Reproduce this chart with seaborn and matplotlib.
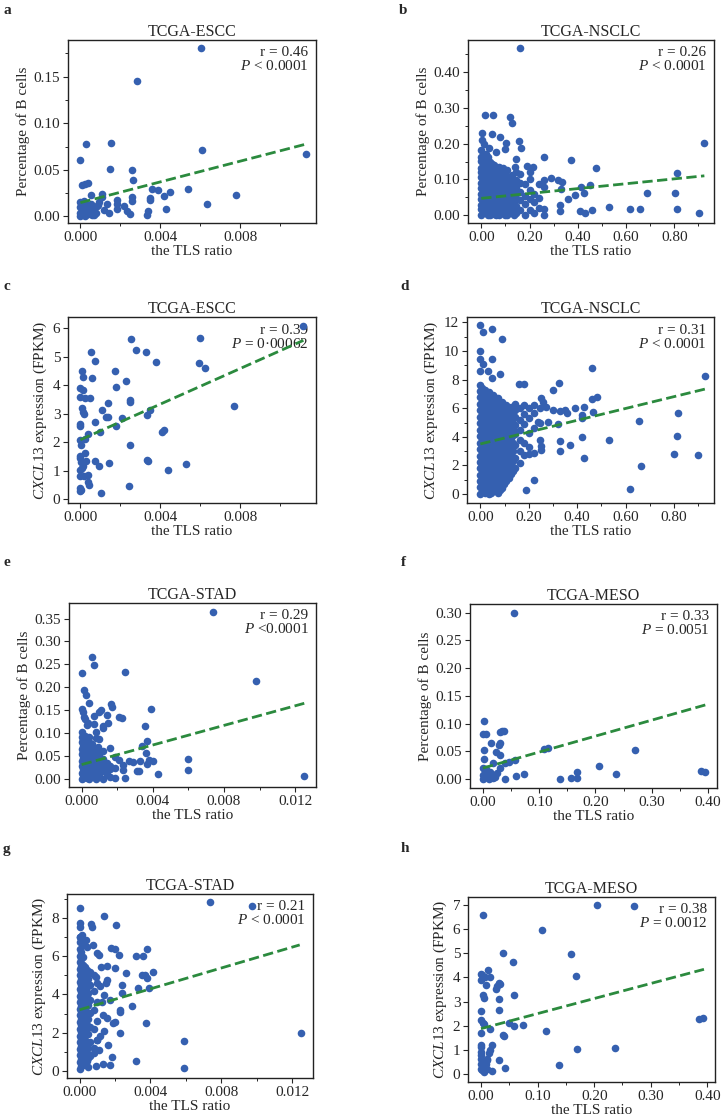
import matplotlib
matplotlib.use("Agg")
import pandas as pd
import matplotlib.pyplot as plt
import seaborn as sns
from matplotlib.ticker import FormatStrFormatter, MultipleLocator

# cores: pontos azuis, reta de regressao verde tracejada
BLUE = "#3560B0"
GREEN = "#2B8A3E"

# ---------------- dados ----------------
# a: TCGA-ESCC, percentagem de celulas B
escc_b_pts = [
    (0.00604, 0.1805), (0.00285, 0.1454), (0.0003, 0.0772), (0.00151, 0.0790), (0.00607, 0.0718),
    (0.01128, 0.0668), (0.0, 0.0600), (0.00148, 0.0513), (0.00257, 0.0503), (0.00265, 0.0388),
    (0.0001, 0.0334), (0.00025, 0.0345), (0.0004, 0.0355), (0.00054, 0.0233), (0.00109, 0.0244),
    (0.0011, 0.0208), (0.0026, 0.0208), (0.0026, 0.0161), (0.0036, 0.0294), (0.0039, 0.0287),
    (0.0042, 0.0219), (0.0045, 0.0266), (0.0054, 0.0294), (0.00347, 0.0197), (0.00347, 0.018),
    (0.00777, 0.0226), (0.00634, 0.0129), (0.00431, 0.0079), (0.0034, 0.0057), (0.00336, 0.0011),
    (0.0025, 0.0029), (0.00235, 0.0054), (0.00218, 0.0108), (0.00185, 0.0172), (0.00185, 0.0136),
    (0.00185, 0.0083), (0.00143, 0.004), (0.00134, 0.0136), (0.00117, 0.0072), (0.00092, 0.0154),
    (0.00081, 0.0108), (0.00067, 0.0011), (0.0, 0.0154), (0.0, 0.004), (0.0001, 0.008),
    (0.0002, 0.002), (0.0003, 0.006), (0.00015, 0.012), (0.0004, 0.003), (0.00035, 0.009),
    (0.0005, 0.006), (0.0, 0.0), (0.00025, 0.0005), (0.0006, 0.001), (0.0001, 0.014),
    (0.0004, 0.012), (0.0007, 0.008), (0.00055, 0.013), (0.0, 0.01), (0.0002, 0.016),
    (0.0008, 0.004), (0.0009, 0.012),
]
escc_b_fit = [(0.0, 0.0147), (0.01128, 0.0775)]

# b: TCGA-NSCLC, percentagem de celulas B
nsclc_b_pts = [
    (0.159, 0.468), (0.014, 0.279), (0.048, 0.279), (0.120, 0.274), (0.127, 0.258), (0.003, 0.231),
    (0.044, 0.227), (0.076, 0.220), (0.005, 0.210), (0.012, 0.200), (0.158, 0.208), (0.166, 0.187),
    (0.104, 0.203), (0.032, 0.187), (0.062, 0.178), (0.098, 0.184), (0.146, 0.156), (0.260, 0.164),
    (0.371, 0.153), (0.474, 0.132), (0.925, 0.203), (0.812, 0.119), (0.688, 0.061), (0.802, 0.062),
    (0.449, 0.084), (0.413, 0.080), (0.329, 0.073), (0.427, 0.062), (0.390, 0.056), (0.360, 0.046),
    (0.530, 0.023), (0.616, 0.017), (0.657, 0.017), (0.810, 0.017), (0.902, 0.007), (0.459, 0.014),
    (0.410, 0.011), (0.430, 0.005), (0.325, 0.027), (0.325, 0.011), (0.260, 0.016), (0.260, 0.000),
    (0.260, 0.098), (0.260, 0.080), (0.290, 0.105), (0.320, 0.098), (0.335, 0.094), (0.215, 0.136),
    (0.190, 0.138), (0.200, 0.122), (0.140, 0.136),
]
# nuvem densa: (x, lista de y) por coluna
nsclc_b_cloud = [
    (0.000, [0.0, 0.016, 0.029, 0.046, 0.06, 0.077, 0.089, 0.106, 0.12, 0.133, 0.151, 0.164, 0.181]),
    (0.009, [0.008, 0.023, 0.038, 0.053, 0.068, 0.083, 0.098, 0.113, 0.128, 0.143, 0.158, 0.172]),
    (0.018, [0.006, 0.02, 0.037, 0.05, 0.066, 0.079, 0.096, 0.11, 0.127, 0.139, 0.156, 0.171]),
    (0.027, [0.0, 0.013, 0.028, 0.043, 0.058, 0.073, 0.088, 0.103, 0.118, 0.133, 0.148, 0.163]),
    (0.036, [0.0, 0.014, 0.031, 0.044, 0.061, 0.074, 0.091, 0.104, 0.121, 0.136, 0.149]),
    (0.045, [0.008, 0.022, 0.037, 0.052, 0.067, 0.082, 0.097, 0.112, 0.127, 0.142]),
    (0.054, [0.004, 0.021, 0.034, 0.051, 0.064, 0.081, 0.094, 0.111, 0.124, 0.141]),
    (0.063, [0.0, 0.012, 0.027, 0.042, 0.057, 0.072, 0.087, 0.102, 0.117, 0.132]),
    (0.072, [0.0, 0.016, 0.029, 0.046, 0.059, 0.076, 0.089, 0.106, 0.119, 0.134]),
    (0.081, [0.007, 0.022, 0.037, 0.052, 0.067, 0.082, 0.097, 0.112, 0.127]),
    (0.090, [0.011, 0.024, 0.041, 0.054, 0.071, 0.084, 0.101, 0.114, 0.131]),
    (0.099, [0.0, 0.017, 0.032, 0.047, 0.062, 0.078, 0.093, 0.108]),
    (0.108, [0.0, 0.021, 0.039, 0.061, 0.074, 0.091, 0.109, 0.126]),
    (0.117, [0.008, 0.028, 0.05, 0.066, 0.083, 0.1]),
    (0.126, [0.01, 0.031, 0.049, 0.071, 0.089, 0.111]),
    (0.135, [0.0, 0.018, 0.04, 0.062, 0.088]),
    (0.144, [0.005, 0.026, 0.049, 0.076, 0.099, 0.121]),
    (0.162, [0.015, 0.041, 0.064, 0.091, 0.114]),
    (0.180, [0.0, 0.031, 0.054, 0.086]),
    (0.200, [0.015, 0.046, 0.069, 0.101]),
    (0.220, [0.005, 0.036, 0.059]),
    (0.240, [0.021, 0.049, 0.086]),
]
nsclc_b_fit = [(0.0, 0.047), (0.925, 0.110)]

# c: TCGA-ESCC, expressao de CXCL13
escc_c_pts = [
    (0.01117, 6.08), (0.006, 5.67), (0.00255, 5.61), (0.00278, 5.22), (0.00328, 5.16), (0.00053, 5.15),
    (0.00072, 4.85), (0.0038, 4.82), (0.00595, 4.77), (0.00625, 4.61), (0.00007, 4.49), (0.00175, 4.49),
    (0.00013, 4.28), (0.00057, 4.26), (0.0023, 4.16), (0.00177, 3.95), (0.0, 3.88), (0.00013, 3.82),
    (0.0, 3.58), (0.00025, 3.53), (0.00047, 3.54), (0.00138, 3.38), (0.00247, 3.49), (0.0025, 3.40),
    (0.00347, 3.11), (0.00333, 2.95), (0.00767, 3.25), (0.0001, 3.19), (0.00012, 3.05), (0.0002, 2.97),
    (0.00108, 3.13), (0.00127, 2.89), (0.00137, 2.89), (0.00208, 2.84), (0.0, 2.63), (0.0, 2.55),
    (0.00075, 2.69), (0.00178, 2.55), (0.001, 2.36), (0.00037, 2.29), (0.00408, 2.34), (0.0042, 2.41),
    (0.0, 2.08), (0.00025, 2.10), (0.00005, 1.88), (0.0025, 1.91), (0.0, 1.52), (0.0, 1.44),
    (0.00023, 1.61), (0.00005, 1.30), (0.0003, 1.35), (0.00075, 1.32), (0.00142, 1.26), (0.00333, 1.37),
    (0.00338, 1.33), (0.0053, 1.22), (0.00438, 1.03), (0.0, 1.03), (0.00008, 1.09), (0.00013, 1.15),
    (0.00093, 1.15), (0.0, 0.81), (0.0002, 0.82), (0.00037, 0.83), (0.00037, 0.60), (0.00045, 0.48),
    (0.0, 0.39), (0.00005, 0.33), (0.0, 0.27), (0.00245, 0.44), (0.00105, 0.21),
]
escc_c_fit = [(0.0, 2.08), (0.01117, 5.57)]

# d: TCGA-NSCLC, expressao de CXCL13
nsclc_d_pts = [
    (0.0, 11.82), (0.01, 11.35), (0.05, 11.54), (0.091, 10.84), (0.0, 10.02), (0.0, 9.42), (0.01, 9.07),
    (0.05, 9.42), (0.0, 8.6), (0.03, 8.6), (0.05, 8.1), (0.08, 8.4), (0.462, 8.83), (0.928, 8.27),
    (0.326, 7.74), (0.16, 7.7), (0.18, 7.7), (0.30, 7.3), (0.48, 6.8), (0.46, 6.65), (0.25, 6.7),
    (0.818, 5.64), (0.655, 5.1), (0.465, 5.75), (0.43, 6.1), (0.39, 6.0), (0.35, 5.85), (0.33, 5.8),
    (0.42, 5.5), (0.42, 5.3), (0.24, 5.05), (0.28, 5.05), (0.36, 5.65), (0.814, 4.05), (0.53, 3.75),
    (0.42, 4.0), (0.33, 3.7), (0.37, 3.4), (0.25, 3.35), (0.25, 3.1), (0.33, 3.0), (0.20, 2.8),
    (0.43, 2.5), (0.80, 2.8), (0.90, 2.75), (0.665, 1.95), (0.62, 0.32), (0.22, 0.95), (0.19, 0.3),
    (0.32, 4.9), (0.27, 6.1), (0.30, 5.9), (0.26, 6.4), (0.22, 6.2),
]
nsclc_d_cloud = [
    (0.000, [0.0, 0.47, 0.88, 1.36, 1.79, 2.27, 2.68, 3.16, 3.58, 4.07, 4.48, 4.96, 5.38, 5.86, 6.28, 6.77, 7.18, 7.6]),
    (0.009, [0.22, 0.68, 1.12, 1.58, 2.02, 2.48, 2.92, 3.38, 3.82, 4.28, 4.72, 5.18, 5.62, 6.08, 6.52, 6.98, 7.4]),
    (0.018, [0.1, 0.57, 0.98, 1.46, 1.88, 2.37, 2.78, 3.26, 3.68, 4.17, 4.58, 5.06, 5.48, 5.97, 6.38, 6.86, 7.3]),
    (0.027, [0.25, 0.7, 1.15, 1.6, 2.05, 2.5, 2.95, 3.4, 3.85, 4.3, 4.75, 5.2, 5.65, 6.1, 6.55, 7.0]),
    (0.036, [0.0, 0.44, 0.92, 1.33, 1.82, 2.23, 2.71, 3.13, 3.62, 4.03, 4.51, 4.93, 5.41, 5.83, 6.32, 6.73, 7.15]),
    (0.045, [0.1, 0.62, 1.1, 1.55, 2.0, 2.45, 2.9, 3.35, 3.8, 4.25, 4.7, 5.15, 5.6, 6.05, 6.5, 6.95]),
    (0.054, [0.2, 0.66, 1.08, 1.57, 1.98, 2.46, 2.88, 3.37, 3.78, 4.26, 4.68, 5.17, 5.58, 6.06, 6.48, 6.95]),
    (0.063, [0.45, 0.88, 1.33, 1.78, 2.23, 2.68, 3.13, 3.58, 4.03, 4.48, 4.93, 5.38, 5.83, 6.28, 6.72]),
    (0.072, [0.1, 0.6, 1.28, 1.77, 2.18, 2.66, 3.08, 3.57, 3.98, 4.46, 4.88, 5.37, 5.78, 6.26, 6.7]),
    (0.081, [0.3, 0.85, 1.3, 1.75, 2.2, 2.65, 3.1, 3.55, 4.0, 4.45, 4.9, 5.35, 5.8, 6.25]),
    (0.090, [0.4, 1.0, 1.52, 1.93, 2.42, 2.83, 3.31, 3.73, 4.22, 4.63, 5.11, 5.53, 6.02, 6.45]),
    (0.099, [0.7, 1.25, 1.75, 2.2, 2.65, 3.1, 3.55, 4.0, 4.45, 4.9, 5.35, 5.8, 6.2]),
    (0.108, [0.9, 1.6, 2.1, 2.6, 3.1, 3.5, 4.0, 4.4, 4.9, 5.3, 5.8, 6.2]),
    (0.117, [1.15, 1.8, 2.35, 2.85, 3.35, 3.8, 4.25, 4.7, 5.15, 5.6, 6.0]),
    (0.126, [1.4, 2.0, 2.8, 3.3, 3.9, 4.6, 5.1, 5.6, 6.1]),
    (0.135, [1.6, 2.3, 3.0, 3.6, 4.1, 4.5, 5.0, 5.5]),
    (0.144, [1.8, 2.5, 3.4, 4.2, 4.8, 5.4, 5.9, 6.3]),
    (0.162, [2.2, 3.0, 3.8, 4.5, 5.2, 6.0]),
    (0.180, [2.7, 3.6, 4.9, 5.6, 6.2]),
    (0.200, [3.3, 4.3, 5.3, 6.0]),
    (0.220, [2.9, 4.6, 5.7]),
    (0.245, [3.8, 5.0, 6.0]),
]
nsclc_d_fit = [(0.0, 3.5), (0.928, 7.34)]

# e: TCGA-STAD, percentagem de celulas B
stad_e_pts = [
    (0.00741, 0.3646), (0.00056, 0.267), (0.00069, 0.249), (0.0, 0.2306), (0.00246, 0.234), (0.0098, 0.2145),
    (0.01251, 0.005), (0.00013, 0.194), (0.00024, 0.182), (0.00041, 0.165), (0.0, 0.1515), (0.00006, 0.146),
    (0.00163, 0.1625), (0.00173, 0.157), (0.0021, 0.135), (0.00225, 0.132), (0.00388, 0.1515), (0.00099, 0.146),
    (0.00107, 0.15), (0.00144, 0.14), (0.00069, 0.1376), (0.00015, 0.134), (0.0002, 0.131), (0.00028, 0.117),
    (0.00038, 0.122), (0.0007, 0.1186), (0.00122, 0.115), (0.00122, 0.11), (0.0015, 0.122), (0.00356, 0.1157),
    (0.00081, 0.103), (0.00369, 0.082), (0.0008, 0.088), (0.001, 0.086), (0.00338, 0.0717), (0.0029, 0.0366),
    (0.0033, 0.038), (0.0036, 0.055), (0.0038, 0.0417), (0.004, 0.0388), (0.0037, 0.033), (0.0043, 0.0095),
    (0.00595, 0.044), (0.00597, 0.0198), (0.0031, 0.0168), (0.0032, 0.0168), (0.00266, 0.038), (0.00244, 0.0022),
    (0.0023, 0.0198), (0.0023, 0.029), (0.0019, 0.024), (0.0019, 0.002), (0.0021, 0.04), (0.0016, 0.066),
    (0.0019, 0.0476), (0.0012, 0.06), (0.0009, 0.07), (0.0004, 0.092),
]
stad_e_cloud = [
    (0.0000, [0.0, 0.013, 0.027, 0.039, 0.053, 0.065, 0.079, 0.091, 0.101]),
    (0.0001, [0.007, 0.02, 0.033, 0.046, 0.059, 0.072, 0.085]),
    (0.0002, [0.004, 0.018, 0.03, 0.044, 0.056, 0.07, 0.082, 0.094]),
    (0.0003, [0.002, 0.016, 0.029, 0.042, 0.055, 0.068, 0.088]),
    (0.0004, [0.0, 0.012, 0.026, 0.04, 0.052, 0.066, 0.08]),
    (0.0005, [0.006, 0.019, 0.032, 0.046, 0.06, 0.072]),
    (0.0006, [0.006, 0.021, 0.034, 0.047, 0.062, 0.075]),
    (0.0007, [0.003, 0.014, 0.027, 0.04, 0.052]),
    (0.0008, [0.0, 0.016, 0.03, 0.044, 0.058]),
    (0.0009, [0.004, 0.018, 0.03, 0.043]),
    (0.0010, [0.008, 0.022, 0.037, 0.05]),
    (0.0012, [0.0, 0.017, 0.03, 0.042]),
    (0.0014, [0.01, 0.024, 0.035]),
    (0.0016, [0.003, 0.02, 0.028]),
]
stad_e_fit = [(0.0, 0.0307), (0.01251, 0.1647)]

# f: TCGA-MESO, percentagem de celulas B
meso_f_pts = [
    (0.055, 0.30), (0.002, 0.1038), (0.0, 0.0816), (0.005, 0.0804), (0.015, 0.0648), (0.03, 0.084),
    (0.034, 0.0858), (0.038, 0.087), (0.028, 0.0618), (0.03, 0.0648), (0.024, 0.048), (0.03, 0.0438),
    (0.002, 0.0516), (0.002, 0.036), (0.018, 0.0288), (0.031, 0.0192), (0.039, 0.0288), (0.047, 0.03),
    (0.057, 0.0336), (0.108, 0.054), (0.115, 0.0564), (0.271, 0.0516), (0.206, 0.024), (0.167, 0.0126),
    (0.167, 0.0018), (0.157, 0.0012), (0.137, 0.0), (0.237, 0.009), (0.073, 0.009), (0.058, 0.0048),
    (0.039, 0.0), (0.388, 0.015), (0.395, 0.0126), (0.0, 0.0), (0.005, 0.003), (0.01, 0.0),
    (0.015, 0.005), (0.0, 0.008), (0.008, 0.01), (0.018, 0.002), (0.02, 0.008), (0.003, 0.014),
    (0.012, 0.012), (0.022, 0.004), (0.006, 0.018), (0.0, 0.02), (0.025, 0.01), (0.01, 0.006),
]
meso_f_fit = [(0.0, 0.0198), (0.396, 0.1338)]

# g: TCGA-STAD, expressao de CXCL13
stad_g_pts = [
    (0.00735, 8.84), (0.00974, 8.65), (0.01251, 1.97), (0.0, 8.56), (0.00139, 8.14), (0.0, 7.77),
    (0.0, 7.56), (0.00064, 7.69), (0.0007, 7.56), (0.00206, 7.62), (0.0, 7.04), (0.00005, 6.99),
    (0.00013, 7.13), (0.00038, 6.86), (0.00075, 6.6), (0.001, 6.17), (0.0011, 6.08), (0.0018, 6.46),
    (0.002, 6.38), (0.0022, 6.08), (0.0032, 6.03), (0.0036, 6.03), (0.0038, 6.38), (0.00417, 5.2),
    (0.0035, 5.0), (0.0037, 5.03), (0.0038, 4.86), (0.0039, 4.33), (0.0033, 4.33), (0.0026, 5.12),
    (0.0024, 4.5), (0.0024, 4.1), (0.002, 5.38), (0.00154, 5.5), (0.00157, 4.77), (0.0015, 4.6),
    (0.00116, 4.42), (0.00295, 3.37), (0.0023, 3.2), (0.0023, 3.1), (0.0017, 3.72), (0.00135, 3.98),
    (0.00126, 3.6), (0.00154, 2.76), (0.002, 2.58), (0.00188, 2.5), (0.0023, 1.97), (0.0014, 2.06),
    (0.00116, 1.8), (0.001, 1.62), (0.00375, 2.5), (0.0059, 1.54), (0.0059, 0.12), (0.0032, 0.52),
    (0.00184, 0.72), (0.0013, 0.37), (0.0017, 0.31), (0.0005, 0.19), (0.0009, 0.23), (0.0011, 1.1),
    (0.0008, 0.93), (0.0016, 1.36), (0.0012, 5.45), (0.0009, 4.9), (0.0013, 2.9),
]
stad_g_cloud = [
    (0.0000, [0.1, 0.44, 0.81, 1.14, 1.51, 1.84, 2.21, 2.54, 2.91, 3.24, 3.61, 3.94, 4.31, 4.64, 5.01, 5.34, 5.71, 6.04, 6.41, 6.74]),
    (0.0001, [0.25, 0.62, 0.98, 1.32, 1.68, 2.02, 2.38, 2.72, 3.08, 3.42, 3.78, 4.12, 4.48, 4.82, 5.18, 5.52, 5.88, 6.22]),
    (0.0002, [0.3, 0.66, 0.99, 1.36, 1.69, 2.06, 2.39, 2.76, 3.09, 3.46, 3.79, 4.16, 4.49, 4.86, 5.19, 5.56, 5.98, 6.6]),
    (0.0003, [0.4, 0.78, 1.15, 1.62, 2.15, 2.62, 3.15, 3.62, 4.15, 4.62, 5.1, 5.45]),
    (0.0004, [0.5, 0.92, 1.38, 1.91, 2.38, 2.92, 3.39, 3.91, 4.38, 4.92, 5.31, 6.5]),
    (0.0005, [0.65, 1.2, 1.95, 2.7, 3.45, 4.1, 4.8]),
    (0.0006, [0.8, 1.52, 2.28, 3.02, 3.69, 4.52, 5.18]),
    (0.0008, [1.2, 2.2, 3.2, 4.2, 5.0]),
    (0.0010, [1.6, 2.6, 3.6, 4.6]),
]
stad_g_fit = [(0.0, 3.2), (0.01242, 6.6)]

# h: TCGA-MESO, expressao de CXCL13
meso_h_pts = [
    (0.205, 7.03), (0.271, 6.98), (0.0035, 6.59), (0.108, 5.96), (0.038, 5.02), (0.159, 4.99),
    (0.056, 4.65), (0.168, 4.06), (0.012, 4.33), (0.0, 4.16), (0.002, 4.12), (0.0065, 4.02),
    (0.016, 4.02), (0.0006, 3.88), (0.0094, 3.7), (0.031, 3.77), (0.033, 3.74), (0.026, 3.51),
    (0.029, 3.63), (0.003, 3.29), (0.006, 3.16), (0.058, 3.29), (0.031, 3.11), (0.031, 2.66),
    (0.0, 2.59), (0.0, 2.22), (0.003, 2.12), (0.006, 2.08), (0.015, 1.87), (0.0, 1.69),
    (0.039, 1.62), (0.04, 1.55), (0.049, 2.12), (0.059, 1.97), (0.074, 2.04), (0.115, 1.78),
    (0.386, 2.26), (0.393, 2.3), (0.169, 1.04), (0.236, 1.08), (0.137, 0.35), (0.019, 1.18),
    (0.016, 0.97), (0.0135, 0.86), (0.0, 1.21), (0.0, 1.11), (0.0, 0.76), (0.0, 0.62),
    (0.0, 0.42), (0.0, 0.21), (0.002, 0.14), (0.005, 0.28), (0.008, 0.42), (0.011, 0.55),
    (0.011, 0.2), (0.031, 0.58), (0.042, 0.24), (0.019, 0.1), (0.011, 0.62), (0.004, 0.5),
    (0.0, 0.9), (0.006, 0.05),
]
meso_h_fit = [(0.0, 1.87), (0.394, 4.34)]

# ---------------- estilo ----------------
sns.set_style("ticks")
plt.rcParams['font.family'] = ['Liberation Serif', 'DejaVu Serif']
plt.rcParams['mathtext.fontset'] = 'custom'
plt.rcParams['mathtext.rm'] = 'Liberation Serif'
plt.rcParams['mathtext.it'] = 'Liberation Serif:italic'

W, H = 725, 1118
fig = plt.figure(figsize=(W / 100, H / 100), dpi=100)

B_LABEL = "Percentage of B cells"
C_LABEL = r"$\mathit{CXCL13}$ expression (FPKM)"

# caixa de cada eixo em pixeis (esq, topo, dir, baixo) e formatacao dos eixos
panels = [
    dict(letter="a", lpos=(3, 10), box=(68, 40, 316, 223), title="TCGA-ESCC", ylabel=B_LABEL,
         pts=escc_b_pts, cloud=[], fit=escc_b_fit, note="r = 0.46\n$P$ < 0.0001",
         xlim=(-0.00062, 0.0118), ylim=(-0.0072, 0.1895), xt=(0.004, 0.002, "%.3f"), yt=(0.05, 0.025, "%.2f")),
    dict(letter="b", lpos=(399, 10), box=(468, 40, 714, 223), title="TCGA-NSCLC", ylabel=B_LABEL,
         pts=nsclc_b_pts, cloud=nsclc_b_cloud, fit=nsclc_b_fit, note="r = 0.26\n$P$ < 0.0001",
         xlim=(-0.055, 0.965), ylim=(-0.022, 0.49), xt=(0.2, 0.1, "%.2f"), yt=(0.1, 0.05, "%.2f")),
    dict(letter="c", lpos=(3, 287), box=(68, 317, 316, 503), title="TCGA-ESCC", ylabel=C_LABEL,
         pts=escc_c_pts, cloud=[], fit=escc_c_fit, note="r = 0.39\n$P$ = 0\u00b700062",
         xlim=(-0.00062, 0.0118), ylim=(-0.14, 6.39), xt=(0.004, 0.002, "%.3f"), yt=(1, None, "%d")),
    dict(letter="d", lpos=(400, 287), box=(467, 317, 714, 503), title="TCGA-NSCLC", ylabel=C_LABEL,
         pts=nsclc_d_pts, cloud=nsclc_d_cloud, fit=nsclc_d_fit, note="r = 0.31\n$P$ < 0.0001",
         xlim=(-0.055, 0.965), ylim=(-0.63, 12.38), xt=(0.2, 0.1, "%.2f"), yt=(2, 1, "%d")),
    dict(letter="e", lpos=(3, 563), box=(69, 603, 316, 787), title="TCGA-STAD", ylabel=B_LABEL,
         pts=stad_e_pts, cloud=stad_e_cloud, fit=stad_e_fit, note="r = 0.29\n$P$ <0.0001",
         xlim=(-0.00071, 0.01317), ylim=(-0.0183, 0.384), xt=(0.004, 0.002, "%.3f"), yt=(0.05, None, "%.2f")),
    dict(letter="f", lpos=(401, 563), box=(470, 604, 717, 788), title="TCGA-MESO", ylabel=B_LABEL,
         pts=meso_f_pts, cloud=[], fit=meso_f_fit, note="r = 0.33\n$P$ = 0.0051",
         xlim=(-0.023, 0.416), ylim=(-0.0162, 0.3156), xt=(0.1, 0.05, "%.2f"), yt=(0.05, None, "%.2f")),
    dict(letter="g", lpos=(3, 850), box=(67, 894, 313, 1078), title="TCGA-STAD", ylabel=C_LABEL,
         pts=stad_g_pts, cloud=stad_g_cloud, fit=stad_g_fit, note="r = 0.21\n$P$ < 0.0001",
         xlim=(-0.00071, 0.01317), ylim=(-0.38, 9.27), xt=(0.004, 0.002, "%.3f"), yt=(2, 1, "%d")),
    dict(letter="h", lpos=(401, 848), box=(468, 897, 715, 1082), title="TCGA-MESO", ylabel=C_LABEL,
         pts=meso_h_pts, cloud=[], fit=meso_h_fit, note="r = 0.38\n$P$ = 0.0012",
         xlim=(-0.023, 0.4135), ylim=(-0.35, 7.35), xt=(0.1, 0.05, "%.2f"), yt=(1, None, "%d")),
]

for p in panels:
    l, t, r, b = p["box"]
    ax = fig.add_axes([l / W, 1 - b / H, (r - l) / W, (b - t) / H])

    # junta pontos isolados e a nuvem densa (colunas de pontos)
    rows = list(p["pts"])
    for cx, ys in p["cloud"]:
        rows += [(cx, y) for y in ys]
    df = pd.DataFrame(rows, columns=["x", "y"])
    sns.scatterplot(data=df, x="x", y="y", ax=ax, color=BLUE, s=30, linewidth=0, zorder=3)

    fit = pd.DataFrame(p["fit"], columns=["x", "y"])
    sns.lineplot(data=fit, x="x", y="y", ax=ax, color=GREEN, linestyle="--", lw=2, zorder=4)

    ax.text(0.97, 0.965, p["note"], transform=ax.transAxes, ha="right", va="top",
            fontsize=11, linespacing=1.0, zorder=2)

    ax.set_xlim(*p["xlim"])
    ax.set_ylim(*p["ylim"])
    xmaj, xmin, xfmt = p["xt"]
    ymaj, ymin, yfmt = p["yt"]
    ax.xaxis.set_major_locator(MultipleLocator(xmaj))
    ax.xaxis.set_major_formatter(FormatStrFormatter(xfmt))
    ax.yaxis.set_major_locator(MultipleLocator(ymaj))
    ax.yaxis.set_major_formatter(FormatStrFormatter(yfmt))
    if xmin:
        ax.xaxis.set_minor_locator(MultipleLocator(xmin))
    if ymin:
        ax.yaxis.set_minor_locator(MultipleLocator(ymin))

    ax.tick_params(which="major", length=3.5, width=0.8, labelsize=11, pad=2)
    ax.tick_params(which="minor", length=2, width=0.7)
    for s in ax.spines.values():
        s.set_linewidth(1.0)
        s.set_color("#222222")

    ax.set_title(p["title"], fontsize=11.5, pad=3)
    ax.set_xlabel("the TLS ratio", fontsize=11, labelpad=1)
    ax.set_ylabel(p["ylabel"], fontsize=11, labelpad=3)

    fig.text(p["lpos"][0] / W, 1 - p["lpos"][1] / H, p["letter"], fontsize=11,
             fontweight="bold", ha="left", va="center")

fig.savefig("out.png", dpi=100)
plt.close(fig)
